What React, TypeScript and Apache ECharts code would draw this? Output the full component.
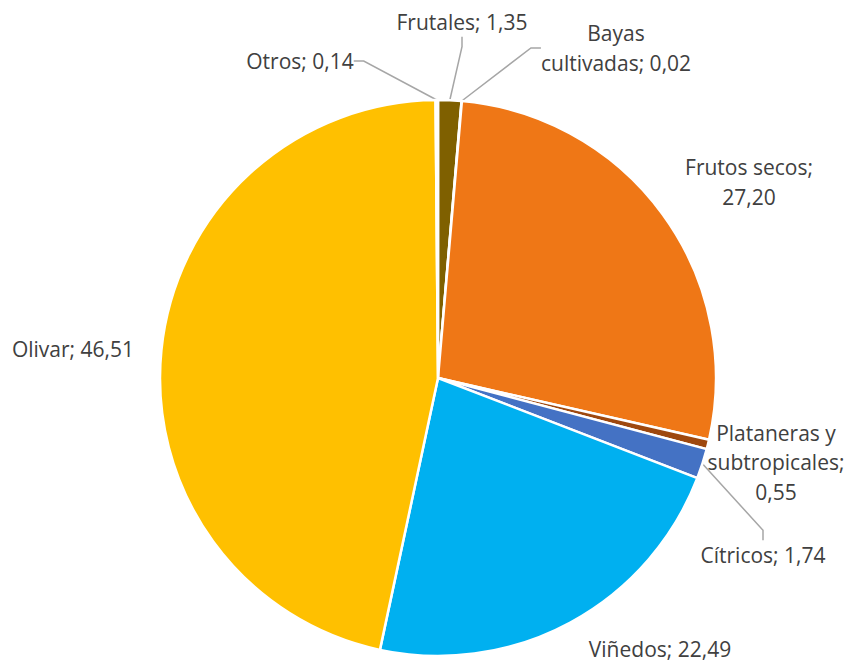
import React, { useEffect, useRef } from "react";
import * as echarts from "echarts";

const categories = [
  "Frutales",
  "Bayas cultivadas",
  "Frutos secos",
  "Plataneras y subtropicales",
  "Cítricos",
  "Viñedos",
  "Olivar",
  "Otros",
];
const values = [1.35, 0.02, 27.2, 0.55, 1.74, 22.49, 46.51, 0.14];
const colors = ["#7F6000", "#A5A5A5", "#EF7716", "#9E480E", "#4472C4", "#00B0F0", "#FFC000", "#5B9BD5"];
const labelTexts = [
  "Frutales; 1,35",
  "Bayas\ncultivadas; 0,02",
  "Frutos secos;\n27,20",
  "Plataneras y\nsubtropicales;\n0,55",
  "Cítricos; 1,74",
  "Viñedos; 22,49",
  "Olivar; 46,51",
  "Otros; 0,14",
];
const showLine = [true, true, false, false, true, false, false, true];
const labelPos: [number, number][] = [
  [462, 22],
  [616, 48],
  [749, 182],
  [776, 462],
  [763, 555],
  [660, 649],
  [73, 349],
  [300, 61],
];

export default function App() {
  const ref = useRef<HTMLDivElement>(null);
  useEffect(() => {
    if (!ref.current) return;
    const chart = echarts.init(ref.current, null, { renderer: "svg" });
    chart.setOption({
      animation: false,
      backgroundColor: "#ffffff",
      series: [
        {
          type: "pie",
          center: [438, 378],
          radius: 278,
          startAngle: 90,
          clockwise: true,
          avoidLabelOverlap: false,
          itemStyle: { borderColor: "#ffffff", borderWidth: 2.5 },
          label: {
            show: true,
            position: "outside",
            fontFamily: "Open Sans",
            fontSize: 21,
            lineHeight: 29.5,
            color: "#404040",
            align: "center",
          },
          labelLine: {
            show: true,
            length: 15,
            length2: 10,
            lineStyle: { color: "#A6A6A6", width: 1.5 },
          },
          labelLayout: (p: any) => {
            const pos = labelPos[p.dataIndex];
            return { x: pos[0], y: pos[1], align: "center", verticalAlign: "middle", hideOverlap: false };
          },
          data: categories.map((c, i) => ({
            name: c,
            value: values[i],
            itemStyle: { color: colors[i] },
            label: { formatter: labelTexts[i] },
            labelLine: { show: showLine[i] },
          })),
        },
      ],
    });
    return () => chart.dispose();
  }, []);
  return (
    <div
      ref={ref}
      style={{ position: "absolute", left: 0, top: 0, width: 850, height: 664 }}
    />
  );
}
